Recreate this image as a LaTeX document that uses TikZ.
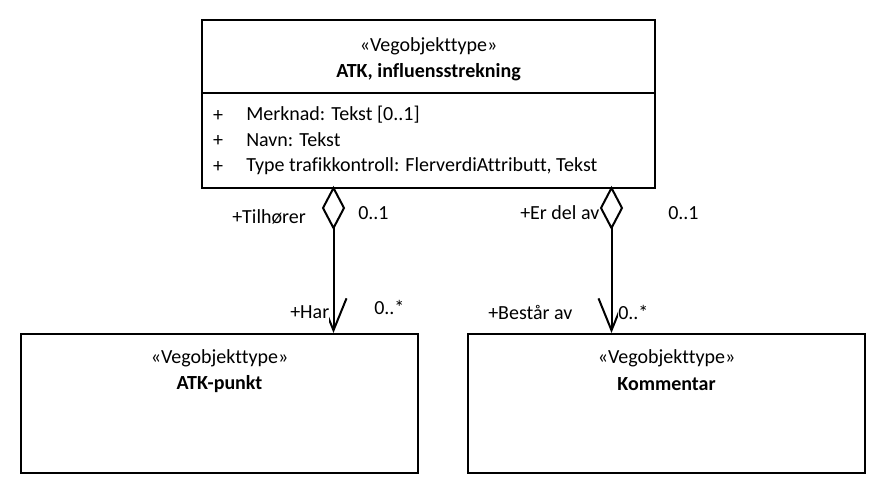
\documentclass[tikz,border=0pt]{standalone}
\usepackage{fontspec}
\setmainfont{Carlito}[Ligatures={NoCommon}]
\usetikzlibrary{arrows.meta}
\begin{document}
\begin{tikzpicture}[x=0.75pt,y=-0.75pt,
  box/.style={draw,line width=1.5pt,fill=white,inner sep=0pt},
  txt/.style={inner sep=0pt,font=\fontsize{15pt}{18pt}\selectfont},
  bold/.style={txt,font=\fontsize{15pt}{18pt}\selectfont\bfseries},
  lbl/.style={txt,anchor=west},
  cover/.style={fill=white,inner ysep=8pt},
  assoc/.style={line width=1.5pt,-{Straight Barb[length=24pt,width=19.5pt,line width=1.5pt]}},
  diam/.style={line width=1.5pt,fill=white,line join=miter}
]
\useasboundingbox (0,0) rectangle (890,494);
% boxes
\node[box,minimum width=339.75pt,minimum height=126pt] (atk) at (428.5,104) {};
\draw[line width=1.5pt] (atk.west |- 0,93) -- (atk.east |- 0,93);
\node[box,minimum width=297.75pt,minimum height=104.25pt] (pkt) at (219.5,403.5) {};
\node[box,minimum width=297.75pt,minimum height=104.25pt] (kom) at (666.5,403.5) {};
% top box text
\node[txt] (s1) at (428.5,46) {«Vegobjekttype»};
\node[bold] (n1) at (428.5,72) {ATK, influensstrekning};
\node[txt] (p1) at (218,116) {+};
\node[txt] (p2) at (218,141) {+};
\node[txt] (p3) at (218,167) {+};
\node[lbl] (a1) at (246,115) {Merknad: Tekst [0..1]};
\node[lbl] (a2) at (246,140) {Navn: Tekst};
\node[lbl] (a3) at (246,166) {Type trafikkontroll: FlerverdiAttributt, Tekst};
% bottom box text
\node[txt] (s2) at (219.5,358) {«Vegobjekttype»};
\node[bold] (n2) at (219.5,384) {ATK-punkt};
\node[txt] (s3) at (666.5,358) {«Vegobjekttype»};
\node[bold] (n3) at (666.5,384) {Kommentar};
% diamonds
\coordinate (d1t) at (333.5,188);
\coordinate (d1b) at (333.5,228);
\coordinate (d2t) at (611.5,188);
\coordinate (d2b) at (611.5,228);
\draw[diam] (d1t) -- (344,208) -- (d1b) -- (323,208) -- cycle;
\draw[diam] (d2t) -- (622,208) -- (d2b) -- (601,208) -- cycle;
% connectors
\draw[assoc] (d1b) -- (d1b |- pkt.north);
\draw[assoc] (d2b) -- (d2b |- kom.north);
% labels
\node[lbl] (l1) at (232,217) {+Tilhører};
\node[lbl] (l2) at (358,213) {0..1};
\node[lbl] (l3) at (520,213) {+Er del av};
\node[lbl] (l4) at (668,213) {0..1};
\node[lbl,cover] (l5) at (290,312) {+Har};
\node[lbl] (l6) at (374,307) {0..*};
\node[lbl] (l7) at (488,312) {+Består av};
\node[lbl,cover] (l8) at (618,312) {0..*};
\end{tikzpicture}
\end{document}
